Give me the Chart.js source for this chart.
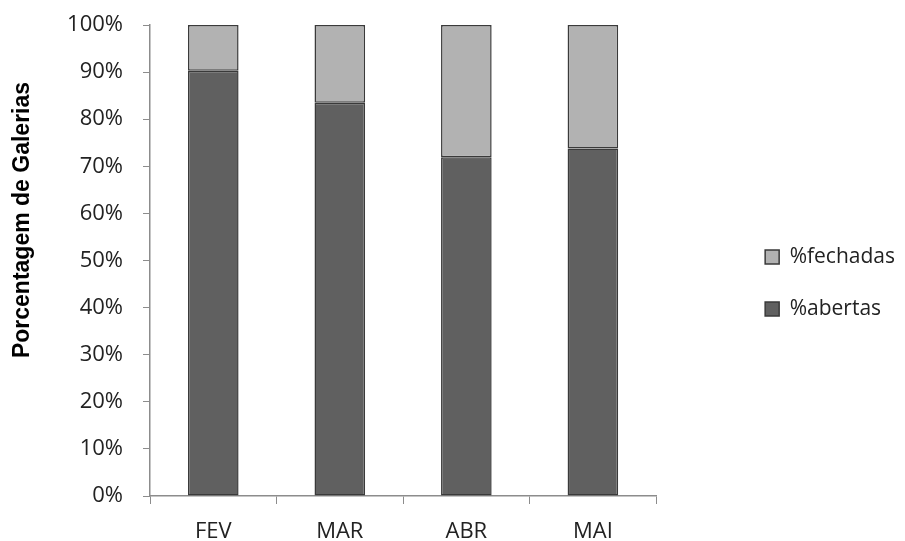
<!DOCTYPE html>
<html><head><meta charset="utf-8">
<script src="https://cdn.jsdelivr.net/npm/chart.js@4/dist/chart.umd.min.js"></script>
<style>html,body{margin:0;padding:0;background:#fff}#wrap{width:905px;height:541px}</style>
</head><body><div id="wrap"><canvas id="c" width="905" height="541"></canvas></div>
<script>
const categories = ["FEV", "MAR", "ABR", "MAI"];
const abertas = [90.3, 83.5, 71.9, 73.8];
const fechadas = [9.7, 16.5, 28.1, 26.2];
const yTicks = [0, 10, 20, 30, 40, 50, 60, 70, 80, 90, 100];
const yTitle = 'Porcentagem de Galerias';

const axisColor = '#8c8c8c';
const fam = "'Open Sans', 'Noto Sans', sans-serif";

// y-axis title, placed like the original (slightly above the axis centre)
const yTitlePlugin = {
  id: 'yTitle',
  afterDraw(chart) {
    const ctx = chart.ctx;
    ctx.save();
    ctx.translate(23, 220);
    ctx.rotate(-Math.PI / 2);
    ctx.font = "bold 23px 'Liberation Sans', Arial, sans-serif";
    ctx.fillStyle = '#000';
    ctx.textAlign = 'center';
    ctx.textBaseline = 'middle';
    ctx.fillText(yTitle, 0, 0);
    ctx.restore();
  }
};

const chart = new Chart(document.getElementById('c'), {
  type: 'bar',
  data: {
    labels: categories,
    datasets: [
      {label: '%abertas', data: abertas, backgroundColor: '#606060', borderColor: '#3a3a3a', borderWidth: 1.5, barPercentage: 0.8, categoryPercentage: 0.5, borderSkipped: false},
      {label: '%fechadas', data: fechadas, backgroundColor: '#b2b2b2', borderColor: '#3a3a3a', borderWidth: 1.5, barPercentage: 0.8, categoryPercentage: 0.5, borderSkipped: false}
    ]
  },
  plugins: [yTitlePlugin],
  options: {
    responsive: false,
    animation: false,
    layout: {padding: {top: 25, right: 0, bottom: 0, left: 0}},
    plugins: {
      tooltip: {enabled: false},
      legend: {
        position: 'right', reverse: true, maxWidth: 260,
        labels: {boxWidth: 14, boxHeight: 14, padding: 31, color: '#222', font: {family: fam, size: 21}}
      }
    },
    scales: {
      x: {
        stacked: true,
        afterFit: s => { s.height = 45; },
        grid: {display: true, drawOnChartArea: false, drawTicks: true, tickLength: 8, color: axisColor, offset: true},
        border: {color: axisColor, width: 1.5},
        ticks: {color: '#222', font: {family: fam, size: 22}, padding: 15}
      },
      y: {
        stacked: true, min: 0, max: 100,
        afterFit: s => { s.width = 150; s.paddingTop = 0; s.paddingBottom = 0; },
        afterBuildTicks: ax => { ax.ticks = yTicks.map(v => ({value: v})); },
        grid: {display: true, drawOnChartArea: false, drawTicks: true, tickLength: 7, color: axisColor},
        border: {color: axisColor, width: 1.5},
        ticks: {color: '#222', font: {family: fam, size: 22}, padding: 20, callback: v => v + '%'},
        title: {display: false}
      },
      gap: {
        position: 'right', display: true, min: 0, max: 1,
        afterFit: s => { s.width = 78; },
        grid: {display: false}, border: {display: false}, ticks: {display: false}
      }
    }
  }
});
</script></body></html>
